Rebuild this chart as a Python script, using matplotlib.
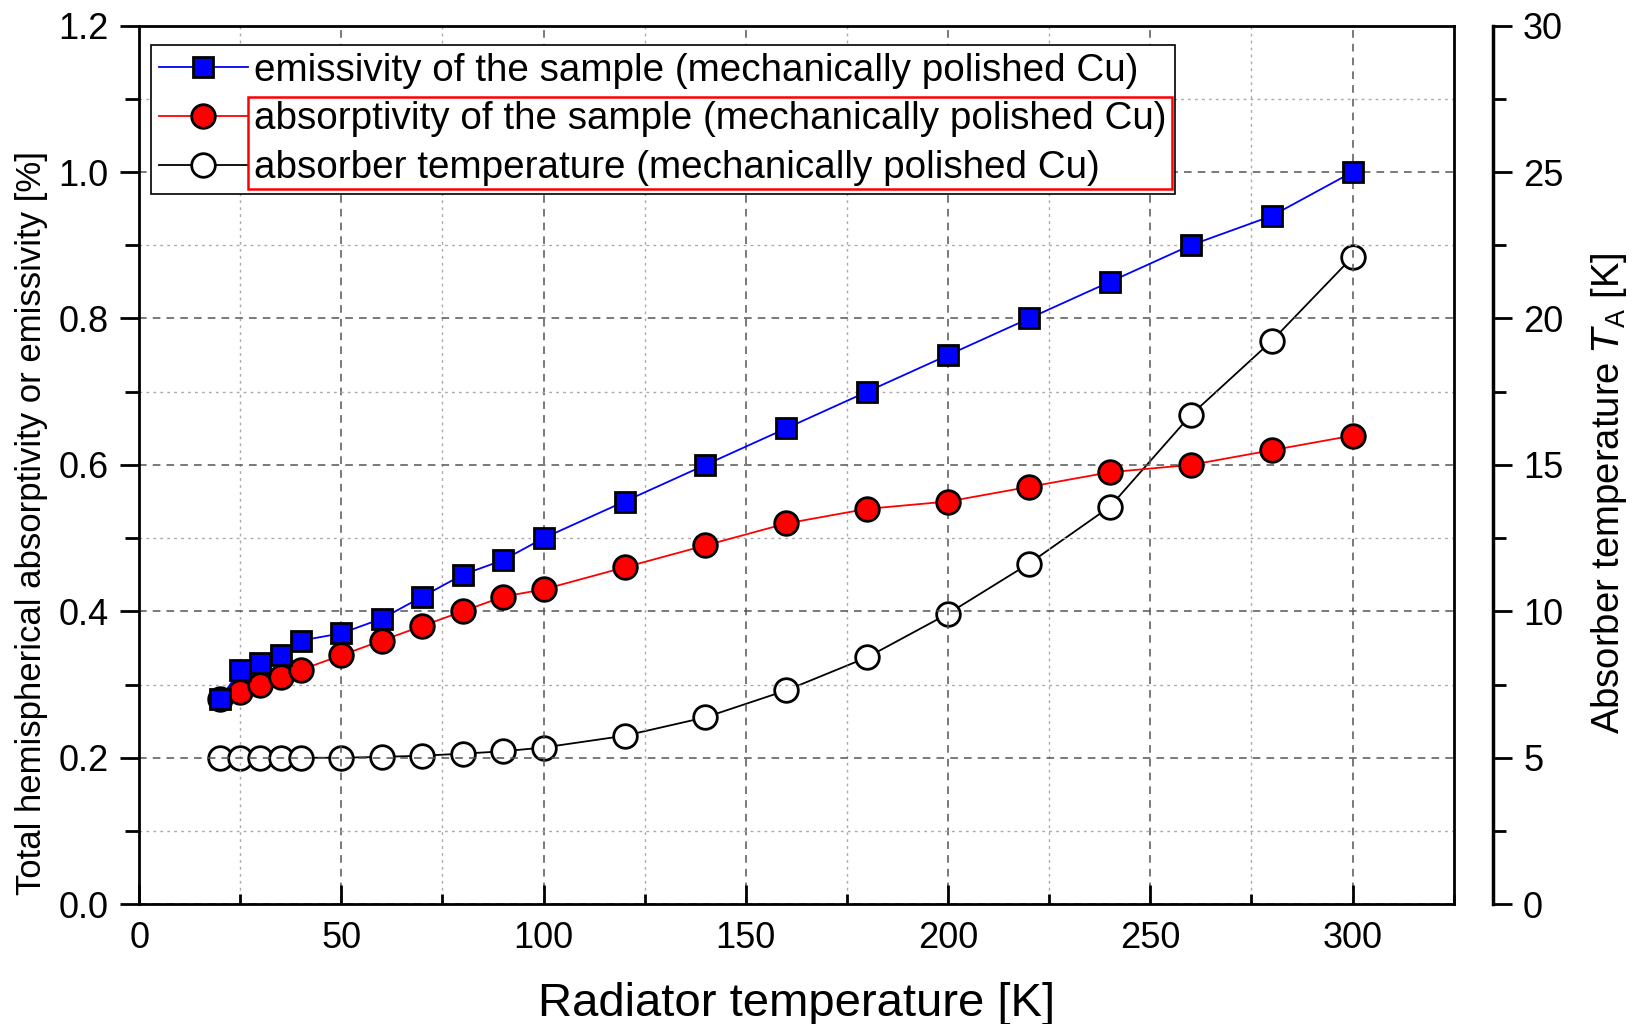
import numpy as np
import matplotlib.pyplot as plt
from matplotlib.ticker import MultipleLocator
from matplotlib.patches import Rectangle

# data
radiator_T = [20, 25, 30, 35, 40, 50, 60, 70, 80, 90, 100, 120, 140, 160, 180, 200, 220, 240, 260, 280, 300]
emissivity = [0.28, 0.32, 0.33, 0.34, 0.36, 0.37, 0.39, 0.42, 0.45, 0.47, 0.50, 0.55, 0.60, 0.65, 0.70,
              0.75, 0.80, 0.85, 0.90, 0.94, 1.00]
absorptivity = [0.28, 0.29, 0.30, 0.31, 0.32, 0.34, 0.36, 0.38, 0.40, 0.42, 0.43, 0.46, 0.49, 0.52, 0.54,
                0.55, 0.57, 0.59, 0.60, 0.62, 0.64]
absorber_T = [5.0, 5.0, 5.0, 5.0, 5.0, 5.0, 5.03, 5.07, 5.14, 5.22, 5.35, 5.75, 6.38, 7.3, 8.43,
              9.92, 11.63, 13.57, 16.7, 19.23, 22.1]

legend_labels = ['emissivity of the sample (mechanically polished Cu)',
                 'absorptivity of the sample (mechanically polished Cu)',
                 'absorber temperature (mechanically polished Cu)']

plt.rcParams['font.family'] = ['Liberation Sans', 'DejaVu Sans']

fig = plt.figure(figsize=(16.37, 10.24), dpi=100)
ax = fig.add_axes([0.085, 0.117, 0.803, 0.858])
ax2 = ax.twinx()

ax.set_xlim(0, 325)
ax.set_ylim(0, 1.2)
ax2.set_ylim(0, 30)

ax.xaxis.set_major_locator(MultipleLocator(50))
ax.xaxis.set_minor_locator(MultipleLocator(25))
ax.yaxis.set_major_locator(MultipleLocator(0.2))
ax.yaxis.set_minor_locator(MultipleLocator(0.1))
ax2.yaxis.set_major_locator(MultipleLocator(5))
ax2.yaxis.set_minor_locator(MultipleLocator(2.5))
ax.yaxis.set_major_formatter(plt.FormatStrFormatter('%.1f'))

ax.grid(which='major', linestyle=(0, (5, 4)), color='#555555', linewidth=1.1)
ax.grid(which='minor', linestyle=(0, (2, 3)), color='#aaaaaa', linewidth=1.0)
ax.set_axisbelow(True)

l1, = ax.plot(radiator_T, emissivity, color='blue', lw=1.3, marker='s', ms=15,
              mfc='blue', mec='black', mew=2, zorder=5)
l2, = ax.plot(radiator_T, absorptivity, color='red', lw=1.3, marker='o', ms=17,
              mfc='red', mec='black', mew=2, zorder=4)
l3, = ax2.plot(radiator_T, absorber_T, color='black', lw=1.3, marker='o', ms=17,
               mfc='white', mec='black', mew=2, zorder=3)

for s in ax.spines.values():
    s.set_linewidth(2)
ax2.spines['right'].set_position(('outward', 28))
ax2.spines['right'].set_linewidth(2.5)
ax2.spines['top'].set_visible(False)
ax2.spines['left'].set_visible(False)
ax2.spines['bottom'].set_visible(False)

ax.tick_params(axis='x', which='major', direction='in', length=14, width=2, labelsize=26, pad=12)
ax.tick_params(axis='x', which='minor', direction='in', length=7, width=2)
ax.tick_params(axis='y', which='major', direction='out', length=14, width=2, labelsize=26, pad=8)
ax.tick_params(axis='y', which='minor', direction='out', length=10, width=2)
ax2.tick_params(axis='y', which='major', direction='out', length=14, width=2, labelsize=26, pad=8)
ax2.tick_params(axis='y', which='minor', direction='out', length=9, width=2)

ax.set_xlabel('Radiator temperature [K]', fontsize=34, labelpad=19)
ax.set_ylabel('Total hemispherical absorptivity or emissivity [%]', fontsize=25)
ax.yaxis.set_label_coords(-0.069, 0.434)
ax2.set_ylabel('Absorber temperature $\\mathit{T}_\\mathregular{A}$ [K]', fontsize=27.5)
ax2.yaxis.set_label_coords(1.103, 0.468)

ax2.set_zorder(ax.get_zorder() - 1)
ax.patch.set_visible(False)

leg = ax.legend([l1, l2, l3], legend_labels,
                loc='upper left', bbox_to_anchor=(0.009, 0.978), fontsize=27.8,
                frameon=True, fancybox=False, edgecolor='black', framealpha=1,
                handlelength=2.3, handletextpad=0.18, borderpad=0.2, labelspacing=0.33,
                borderaxespad=0)
leg.get_frame().set_linewidth(1.2)
leg.set_zorder(10)

# red box around the last two legend entries, as in the reference
fig.patches.append(Rectangle((248 / 1637, 1 - 189 / 1024), (1172 - 248) / 1637, (189 - 97) / 1024,
                             transform=fig.transFigure, fill=False, edgecolor='red', lw=1.8, zorder=20))

fig.savefig('out.png', dpi=100)
